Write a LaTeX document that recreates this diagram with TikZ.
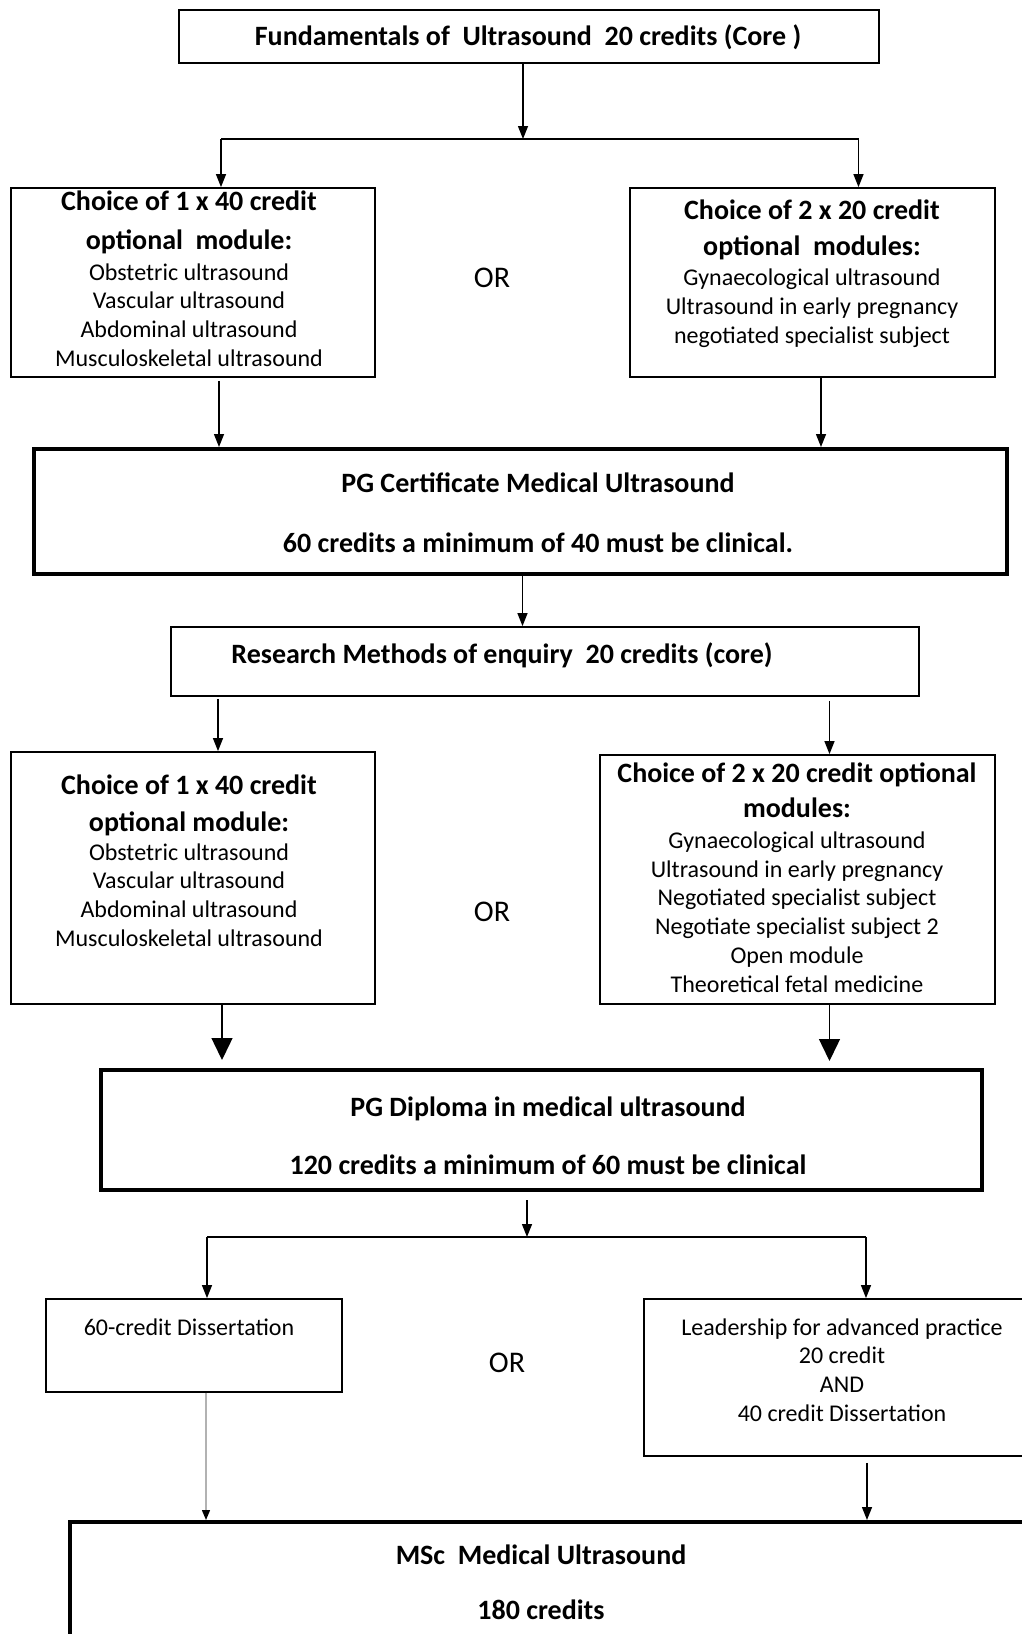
\documentclass[tikz,border=0pt]{standalone}
\usepackage{fontspec}
\setmainfont{Carlito}
\usetikzlibrary{arrows.meta}

\begin{document}
\begin{tikzpicture}[x=0.5pt,y=-0.5pt,
  box/.style={draw=black, line width=0.9pt, inner sep=0pt},
  thickbox/.style={draw=black, line width=2pt, inner sep=0pt},
  head/.style={align=center, font=\bfseries\fontsize{14}{19}\selectfont},
  item/.style={align=center, font=\fontsize{12}{14.4}\selectfont},
  ortext/.style={font=\fontsize{15}{18}\selectfont},
  link/.style={line width=1pt},
  arr/.style={line width=0.7pt, -{Triangle[width=5pt,length=6.5pt]}},
  bigarr/.style={line width=0.7pt, -{Triangle[width=10.5pt,length=11pt]}}]
\useasboundingbox (0,0) rectangle (1022,1634);
\clip (0,0) rectangle (1022,1634);
% boxes
\node [box, minimum width=350pt, minimum height=26.5pt] (fund) at (529,36.5) {};
\node [box, minimum width=182pt, minimum height=94.5pt] (opta) at (193,282.5) {};
\node [box, minimum width=182.5pt, minimum height=94.5pt] (optb) at (812.5,282.5) {};
\node [thickbox, minimum width=486.5pt, minimum height=62.5pt] (cert) at (520.5,511.5) {};
\node [box, minimum width=374pt, minimum height=34.5pt] (research) at (545,661.5) {};
\node [box, minimum width=182pt, minimum height=126pt] (optc) at (193,878) {};
\node [box, minimum width=197.5pt, minimum height=124.5pt] (optd) at (797.5,879.5) {};
\node [thickbox, minimum width=440.5pt, minimum height=60pt] (dipl) at (541.5,1130) {};
\node [box, minimum width=148pt, minimum height=46.5pt] (diss) at (194,1345.5) {};
\node [box, minimum width=198pt, minimum height=78.5pt] (lead) at (842,1377.5) {};
\node [thickbox, minimum width=480pt, minimum height=69pt] (msc) at (550,1591) {};
% texts
\node [head] (fundtxt) at (528,37) {Fundamentals of\ \ Ultrasound\ \ 20 credits (Core )};
\node [head, font=\bfseries\fontsize{14}{19.5}\selectfont] (optahead) at (189,222.5) {Choice of 1 x 40 credit\\optional\ \ module:};
\node [item] (optaitems) at (189,315) {Obstetric ultrasound\\Vascular ultrasound\\Abdominal ultrasound\\Musculoskeletal ultrasound};
\node [head, font=\bfseries\fontsize{14}{18}\selectfont] (optbhead) at (812,230) {Choice of 2 x 20 credit\\optional\ \ modules:};
\node [item] (optbitems) at (812,308) {Gynaecological ultrasound\\Ultrasound in early pregnancy\\negotiated specialist subject};
\node [ortext] (ora) at (492,278) {OR};
\node [head, font=\bfseries\fontsize{14}{30}\selectfont] (certtxt) at (538,513) {PG Certificate Medical Ultrasound\\60 credits a minimum of 40 must be clinical.};
\node [head] (researchtxt) at (502,655) {Research Methods of enquiry\ \ 20 credits (core)};
\node [head, font=\bfseries\fontsize{14}{18.5}\selectfont] (optchead) at (189,805) {Choice of 1 x 40 credit\\optional module:};
\node [item] (optcitems) at (189,895) {Obstetric ultrasound\\Vascular ultrasound\\Abdominal ultrasound\\Musculoskeletal ultrasound};
\node [head, font=\bfseries\fontsize{14}{17.5}\selectfont] (optdhead) at (797,790.5) {Choice of 2 x 20 credit optional\\modules:};
\node [item] (optditems) at (797,912) {Gynaecological ultrasound\\Ultrasound in early pregnancy\\Negotiated specialist subject\\Negotiate specialist subject 2\\Open module\\Theoretical fetal medicine};
\node [ortext] (orb) at (492,912) {OR};
\node [head, font=\bfseries\fontsize{14}{29}\selectfont] (dipltxt) at (548,1136) {PG Diploma in medical ultrasound\\120 credits a minimum of 60 must be clinical};
\node [item] (disstxt) at (189,1327) {60-credit Dissertation};
\node [item] (leadtxt) at (842,1370) {Leadership for advanced practice\\20 credit\\AND\\40 credit Dissertation};
\node [ortext] (orc) at (507,1363) {OR};
\node [head, font=\bfseries\fontsize{14}{27.5}\selectfont] (msctxt) at (541,1582.5) {MSc\ \ Medical Ultrasound\\180 credits};
% connectors
\coordinate (bra) at (523,139);
\draw [arr] ([xshift=-3pt]fund.south) -- (bra);
\draw [link] ([xshift=14pt]opta.north |- bra) -- ([xshift=23pt]optb.north |- bra);
\draw [arr] ([xshift=14pt]opta.north |- bra) -- ([xshift=14pt]opta.north);
\draw [arr] ([xshift=23pt]optb.north |- bra) -- ([xshift=23pt]optb.north);
\draw [arr] ([xshift=13pt,yshift=-1.5pt]opta.south) -- ([xshift=13pt]opta.south |- cert.north);
\draw [arr] ([xshift=4.25pt]optb.south) -- ([xshift=4.25pt]optb.south |- cert.north);
\draw [arr] ([xshift=1pt]cert.south) -- ([xshift=1pt]cert.south |- research.north);
\draw [arr] ([xshift=12.5pt,yshift=-1pt]optc.north |- research.south) -- ([xshift=12.5pt]optc.north);
\draw [arr] ([xshift=16pt,yshift=-2pt]optd.north |- research.south) -- ([xshift=16pt]optd.north);
\draw [bigarr, shorten >=4pt] ([xshift=14.5pt]optc.south) -- ([xshift=14.5pt]optc.south |- dipl.north);
\draw [bigarr, shorten >=3.5pt] ([xshift=16pt]optd.south) -- ([xshift=16pt]optd.south |- dipl.north);
\coordinate (brb) at (527,1237);
\draw [arr, shorten <=4pt] ([xshift=-7.25pt]dipl.south) -- (brb);
\draw [link] ([xshift=6.5pt]diss.north |- brb) -- ([xshift=12pt]lead.north |- brb);
\draw [arr] ([xshift=6.5pt]diss.north |- brb) -- ([xshift=6.5pt]diss.north);
\draw [arr] ([xshift=12pt]lead.north |- brb) -- ([xshift=12pt]lead.north);
\draw [gray!60, line width=0.7pt, -{Triangle[width=4pt,length=5pt,black]}] ([xshift=6pt]diss.south) -- ([xshift=6pt]diss.south |- msc.north);
\draw [arr, shorten <=3pt] ([xshift=12.5pt]lead.south) -- ([xshift=12.5pt]lead.south |- msc.north);
\end{tikzpicture}
\end{document}
